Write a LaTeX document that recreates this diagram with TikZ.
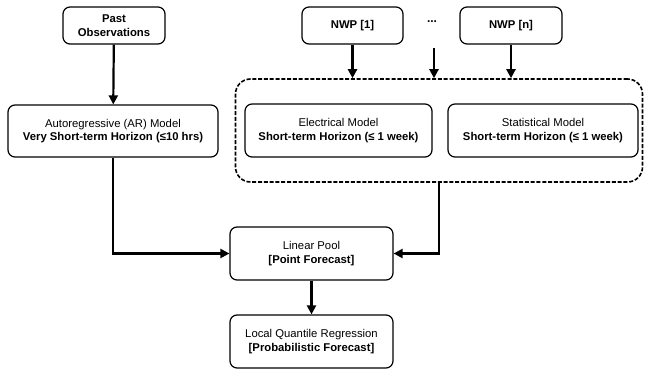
\documentclass[tikz,border=0pt]{standalone}
\usepackage{fontspec}
\setmainfont{Liberation Sans}
\usetikzlibrary{arrows.meta}

\tikzset{
  blk/.style={draw, rounded corners=7pt, line width=1.2pt, align=center,
    font=\fontsize{11.3}{13.5}\selectfont, inner sep=1pt},
  pool/.style={draw, dash pattern=on 4pt off 1.8pt, rounded corners=15pt, line width=1.6pt},
  flow/.style={line width=2.2pt, -{Triangle[length=9pt,width=9pt]}}
}

\begin{document}
\begin{tikzpicture}[x=1pt, y=-1pt]
  \useasboundingbox (0,0) rectangle (645,370);
  % inputs
  \node[blk, minimum width=102pt, minimum height=37pt] (past) at (114,25.5)
    {\textbf{Past}\\\textbf{Observations}};
  \node[blk, minimum width=101pt, minimum height=37pt] (nwpa) at (352.5,25.5)
    {\textbf{NWP [1]}};
  \node[blk, minimum width=102pt, minimum height=37pt] (nwpn) at (511,25.5)
    {\textbf{NWP [n]}};
  \node[font=\fontsize{12}{14}\selectfont\bfseries] (dots) at (432,22) {...};
  \coordinate (dotsin) at (434,48);
  % models
  \node[blk, minimum width=210pt, minimum height=52pt] (ar) at (113,131)
    {Autoregressive (AR) Model\\\textbf{Very Short-term Horizon (≤10 hrs)}};
  \node[pool, minimum width=407pt, minimum height=103pt] (nwpbox) at (439,130.5) {};
  \node[blk, minimum width=187pt, minimum height=53pt] (elec) at (338.5,130.5)
    {Electrical Model\\\textbf{Short-term Horizon (≤ 1 week)}};
  \node[blk, minimum width=190pt, minimum height=53pt] (stat) at (543,130.5)
    {Statistical Model\\\textbf{Short-term Horizon (≤ 1 week)}};
  % combination
  \node[blk, minimum width=163pt, minimum height=53pt] (lp) at (311.5,253.5)
    {Linear Pool\\\textbf{[Point Forecast]}};
  \node[blk, minimum width=163pt, minimum height=53pt] (lqr) at (311.5,341.5)
    {Local Quantile Regression\\\textbf{[Probabilistic Forecast]}};

  \draw[flow] (past) -- (ar);
  \foreach \n in {nwpa, nwpn, dotsin}
    \draw[flow] (\n) -- (\n |- nwpbox.north);
  \draw[flow] (ar) |- (lp);
  \draw[flow] (nwpbox.south) |- (lp);
  \draw[flow] (lp) -- (lqr);
\end{tikzpicture}
\end{document}
